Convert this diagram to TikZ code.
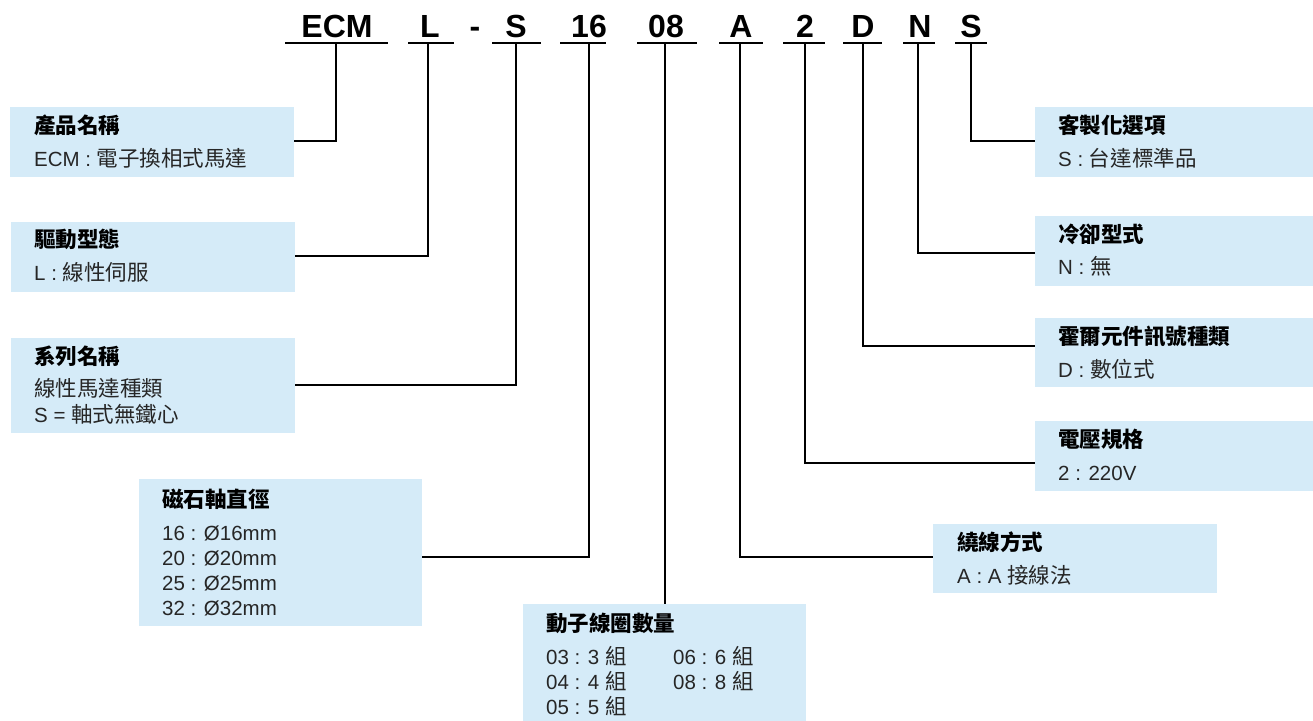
\documentclass[tikz,border=0pt]{standalone}
\usepackage{fontspec}
\setmainfont{Liberation Sans}
\newfontfamily\cjk{Noto Sans CJK TC}[Scale=1.05]
\newcommand\zh[1]{{\cjk #1}}
\definecolor{boxblue}{RGB}{213,235,248}
\definecolor{txt}{RGB}{38,38,38}
\begin{document}
\begin{tikzpicture}[x=1pt,y=-1pt,
  box/.style={fill=boxblue, draw=none, inner sep=0pt, anchor=north west},
  title/.style={anchor=base west, inner sep=0pt, font=\fontsize{20.5}{24}\selectfont\bfseries, text=black},
  body/.style={anchor=base west, inner sep=0pt, font=\fontsize{20.5}{24}\selectfont, text=txt},
  code/.style={anchor=base, inner sep=0pt, font=\fontsize{32}{36}\selectfont\bfseries},
  uline/.style={line width=2.5pt},
  conn/.style={line width=2pt, black}]
\useasboundingbox (0,0) rectangle (1313,720);

% ---- code letters
\node[code] (cECM) at (337,37) {ECM};
\node[code] (cL)   at (430,37) {L};
\node[code] (cdash) at (475,37) {-};
\node[code] (cS)   at (516,37) {S};
\node[code] (c16)  at (589,37) {16};
\node[code] (c08)  at (666,37) {08};
\node[code] (cA)   at (741,37) {A};
\node[code] (c2)   at (805,37) {2};
\node[code] (cD)   at (863,37) {D};
\node[code] (cN)   at (920,37) {N};
\node[code] (cS2)  at (971,37) {S};

% ---- underlines
\draw[uline] (285,43) -- (388,43);
\draw[uline] (408,43) -- (454,43);
\draw[uline] (492,43) -- (541,43);
\draw[uline] (560,43) -- (606,43);
\draw[uline] (637,43) -- (697,43);
\draw[uline] (719,43) -- (763,43);
\draw[uline] (783,43) -- (825,43);
\draw[uline] (843,43) -- (882,43);
\draw[uline] (903,43) -- (935,43);
\draw[uline] (955,43) -- (987,43);

% ---- connector tops
\coordinate (tECM) at (336,43);
\coordinate (tL)   at (428,43);
\coordinate (tS)   at (516,43);
\coordinate (t16)  at (589,43);
\coordinate (t08)  at (665,43);
\coordinate (tA)   at (740,43);
\coordinate (t2)   at (805,43);
\coordinate (tD)   at (863,43);
\coordinate (tN)   at (918,43);
\coordinate (tS2)  at (971,43);

% ---- left boxes
\node[box, minimum width=284pt, minimum height=70pt] (b1) at (10,107) {};
\node[title] at (34,133.5) {\zh{產品名稱}};
\node[body]  at (34,166.5) {ECM : \zh{電子換相式馬達}};

\node[box, minimum width=284pt, minimum height=70pt] (b2) at (11,222) {};
\node[title] at (34,247.5) {\zh{驅動型態}};
\node[body]  at (34,280.5) {L : \zh{線性伺服}};

\node[box, minimum width=284pt, minimum height=95pt] (b3) at (11,338) {};
\node[title] at (34,364.5) {\zh{系列名稱}};
\node[body]  at (34,396.5) {\zh{線性馬達種類}};
\node[body]  at (34,422.5) {S = \zh{軸式無鐵心}};

\node[box, minimum width=283pt, minimum height=147pt] (b4) at (139,479) {};
\node[title] at (162,507.5) {\zh{磁石軸直徑}};
\node[body]  at (162,540.5) {16 : Ø16mm};
\node[body]  at (162,565.5) {20 : Ø20mm};
\node[body]  at (162,590.5) {25 : Ø25mm};
\node[body]  at (162,615.5) {32 : Ø32mm};

\node[box, minimum width=283pt, minimum height=120pt] (b5) at (523,604) {};
\node[title] at (546,631) {\zh{動子線圈數量}};
\node[body]  at (546,664.5) {03 : 3 \zh{組}};
\node[body]  at (546,689.5) {04 : 4 \zh{組}};
\node[body]  at (546,714.5) {05 : 5 \zh{組}};
\node[body]  at (673,664.5) {06 : 6 \zh{組}};
\node[body]  at (673,689.5) {08 : 8 \zh{組}};

% ---- right boxes
\node[box, minimum width=278pt, minimum height=70pt] (r1) at (1035,107) {};
\node[title] at (1058,133.5) {\zh{客製化選項}};
\node[body]  at (1058,166.5) {S : \zh{台達標準品}};

\node[box, minimum width=278pt, minimum height=70pt] (r2) at (1035,216) {};
\node[title] at (1058,242.5) {\zh{冷卻型式}};
\node[body]  at (1058,274.5) {N : \zh{無}};

\node[box, minimum width=278pt, minimum height=69pt] (r3) at (1035,318) {};
\node[title] at (1058,344.5) {\zh{霍爾元件訊號種類}};
\node[body]  at (1058,377.5) {D : \zh{數位式}};

\node[box, minimum width=278pt, minimum height=70pt] (r4) at (1035,421) {};
\node[title] at (1058,447.5) {\zh{電壓規格}};
\node[body]  at (1058,480.5) {2 : 220V};

\node[box, minimum width=284pt, minimum height=69pt] (r5) at (933,524) {};
\node[title] at (957,550.5) {\zh{繞線方式}};
\node[body]  at (957,583.5) {A : A \zh{接線法}};

% ---- elbows
\coordinate (eECM) at (336,141);
\coordinate (eL)   at (428,256);
\coordinate (eS)   at (516,385);
\coordinate (e16)  at (589,557);
\coordinate (eA)   at (740,557);
\coordinate (e2)   at (805,463);
\coordinate (eD)   at (863,346);
\coordinate (eN)   at (918,253);
\coordinate (eS2)  at (971,141);

% ---- connectors
\draw[conn] (tECM) -- (eECM) -- (b1.east |- eECM);
\draw[conn] (tL) -- (eL) -- (b2.east |- eL);
\draw[conn] (tS) -- (eS) -- (b3.east |- eS);
\draw[conn] (t16) -- (e16) -- (b4.east |- e16);
\draw[conn] (t08) -- (t08 |- b5.north);
\draw[conn] (tA) -- (eA) -- (r5.west |- eA);
\draw[conn] (t2) -- (e2) -- (r4.west |- e2);
\draw[conn] (tD) -- (eD) -- (r3.west |- eD);
\draw[conn] (tN) -- (eN) -- (r2.west |- eN);
\draw[conn] (tS2) -- (eS2) -- (r1.west |- eS2);
\end{tikzpicture}
\end{document}
